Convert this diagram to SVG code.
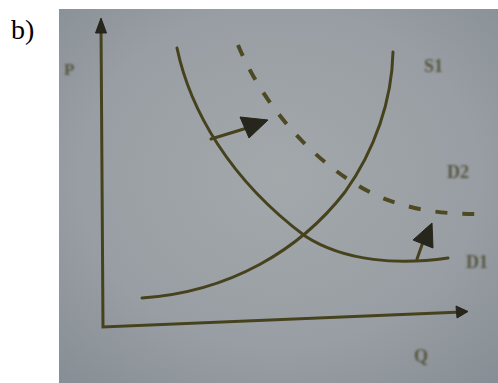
<svg xmlns="http://www.w3.org/2000/svg" width="498" height="383" viewBox="0 0 498 383">
  <defs>
    <radialGradient id="photo" cx="0.5" cy="0.45" r="0.75">
      <stop offset="0" stop-color="#a3a8ab"/>
      <stop offset="0.6" stop-color="#989ea3"/>
      <stop offset="1" stop-color="#868d94"/>
    </radialGradient>
    <filter id="soft" x="-5%" y="-5%" width="110%" height="110%">
      <feGaussianBlur stdDeviation="0.7"/>
    </filter>
    <filter id="softer" x="-20%" y="-20%" width="140%" height="140%">
      <feGaussianBlur stdDeviation="0.9"/>
    </filter>
  </defs>
  <style>
    .ink { fill: none; stroke: #45421f; stroke-width: 3; stroke-linecap: round; }
    .dash { fill: none; stroke: #4e4a24; stroke-width: 4; stroke-dasharray: 12 15; stroke-linecap: butt; }
    .head { fill: #26251a; stroke: #26251a; stroke-width: 1; stroke-linejoin: round; }
    .lbl { font-family: "Liberation Serif", "DejaVu Serif", serif; font-weight: bold; fill: #575640; }
  </style>

  <rect width="498" height="383" fill="#ffffff"/>
  <text x="11" y="39" font-family="Liberation Serif, Times New Roman, serif" font-size="28" fill="#000000">b)</text>

  <rect x="59" y="9" width="439" height="374" fill="url(#photo)"/>

  <g id="chart" filter="url(#soft)">
    <g id="axes">
      <path class="ink" d="M101,24 L103,327 L462,312"/>
      <polygon class="head" points="101,18 95.5,33 106.5,33"/>
      <polygon class="head" points="468,311.5 456,306 457,318"/>
    </g>
    <g id="curves">
      <path id="S1" class="ink" d="M142,298 C230,292 300,250 345,192 C375,150 392,100 393,52"/>
      <path id="D1" class="ink" d="M177,48 C190,110 230,180 305,236 C345,262 400,265 448,258"/>
      <path id="D2" class="dash" d="M238,45 C265,110 320,170 380,197 C420,213 450,214 485,214"/>
    </g>
    <g id="shifts">
      <path class="ink" d="M211,139 L247,128"/>
      <polygon class="head" points="240,117 268,120 249,138"/>
      <path class="ink" d="M417,259 L423,242"/>
      <polygon class="head" points="432,223 413,240 433,248"/>
    </g>
  </g>

  <g id="labels" filter="url(#softer)">
    <text class="lbl" x="64" y="75" font-size="17">P</text>
    <text class="lbl" x="424" y="72" font-size="18">S1</text>
    <text class="lbl" x="447" y="178" font-size="18">D2</text>
    <text class="lbl" x="466" y="268" font-size="18">D1</text>
    <text class="lbl" x="414" y="362" font-size="18">Q</text>
  </g>
</svg>
